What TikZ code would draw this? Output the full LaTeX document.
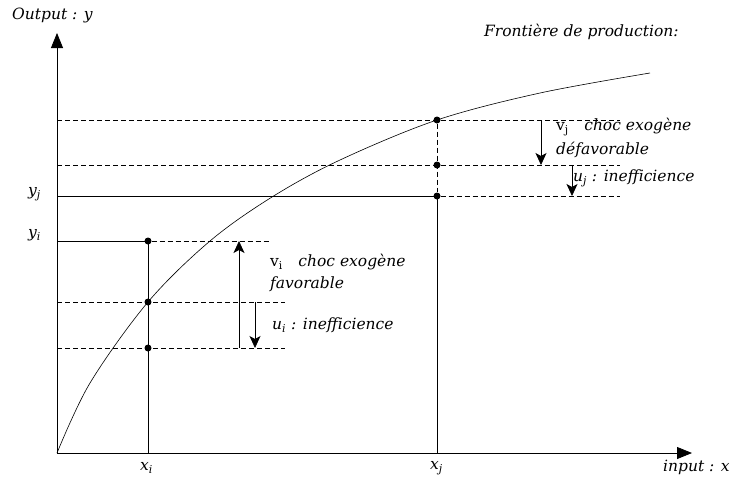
\documentclass[tikz,border=0pt]{standalone}
\usepackage{fontspec}
\setmainfont{DejaVu Serif}
\usetikzlibrary{arrows.meta}
\begin{document}
\begin{tikzpicture}[x=1pt,y=-1pt,
  lbl/.style={font=\itshape\fontsize{15.5}{18}\selectfont, inner sep=0pt, anchor=west},
  axis/.style={line width=0.8pt, -{Triangle[length=15pt,width=12pt]}},
  guide/.style={line width=0.6pt},
  dash line/.style={line width=0.6pt, dash pattern=on 5pt off 3pt},
  shock/.style={line width=0.8pt, -{Stealth[length=12pt,width=11pt,inset=3pt]}},
  dot/.style={circle, fill=black, inner sep=0pt, minimum size=7pt}]
\useasboundingbox (0,0) rectangle (733,488);
% axes
\coordinate (O) at (57,453);
\coordinate (ytop) at (57,33);
\coordinate (xend) at (692,453);
\draw[axis] (O) -- (ytop);
\draw[axis] (O) -- (xend);
% frontier
\draw[line width=0.6pt] plot[smooth, tension=0.55] coordinates {(57,453) (90,383) (148,302) (210,241) (272,197) (340,160) (437,120) (540,93) (650,73)};
% points i
\node[dot] (Pi1) at (148,241) {};
\node[dot] (Pi2) at (148,302) {};
\node[dot] (Pi3) at (148,348) {};
\coordinate (Xi) at (148,453);
\coordinate (Yi) at (57,241);
\coordinate (Li2) at (57,302);
\coordinate (Li3) at (57,348);
\coordinate (Ei1) at (270,241);
\coordinate (Ei2) at (285,302);
\coordinate (Ei3) at (285,348);
\draw[guide] (Yi) -- (Pi1.center) -- (Xi);
\draw[dash line] (Pi1) -- (Ei1);
\draw[dash line] (Li2) -- (Ei2);
\draw[dash line] (Li3) -- (Ei3);
% points j
\node[dot] (Pj1) at (437,120) {};
\node[dot] (Pj2) at (437,165) {};
\node[dot] (Pj3) at (437,196) {};
\coordinate (Xj) at (437,453);
\coordinate (Yj) at (57,196);
\coordinate (Lj1) at (57,120);
\coordinate (Lj2) at (57,165);
\coordinate (Ej1) at (620,120);
\coordinate (Ej2) at (620,165);
\coordinate (Ej3) at (620,196);
\draw[dash line] (Lj1) -- (Ej1);
\draw[dash line] (Lj2) -- (Ej2);
\draw[guide] (Yj) -- (Pj3.center) -- (Xj);
\draw[dash line] (Pj3) -- (Ej3);
\draw[dash line] (Pj1) -- (Pj3);
% shock arrows
\coordinate (a1s) at (239,348);
\coordinate (a1e) at (239,241);
\coordinate (a2s) at (255,302);
\coordinate (a2e) at (255,348);
\coordinate (a3s) at (541,120);
\coordinate (a3e) at (541,165);
\coordinate (a4s) at (572,165);
\coordinate (a4e) at (572,196);
\draw[shock] (a1s) -- (a1e);
\draw[shock] (a2s) -- (a2e);
\draw[shock] (a3s) -- (a3e);
\draw[shock] (a4s) -- (a4e);
% labels
\node[lbl] (tout) at (12,15) {Output : y};
\node[lbl] (tin) at (663,467) {input : x};
\node[lbl] (tfront) at (484,32) {Frontière de production:};
\node[lbl] (txi) at (140,468) {x\textsubscript{i}};
\node[lbl] (txj) at (430,468) {x\textsubscript{j}};
\node[lbl] (tyj) at (28,194) {y\textsubscript{j}};
\node[lbl] (tyi) at (28,235) {y\textsubscript{i}};
\node[lbl] (tvi) at (270,262) {\upshape v\textsubscript{i}\itshape\quad choc exogène};
\node[lbl] (tfav) at (270,284) {favorable};
\node[lbl] (tui) at (272,325) {u\textsubscript{i} : inefficience};
\node[lbl] (tvj) at (556,127) {\upshape v\textsubscript{j}\itshape\quad choc exogène};
\node[lbl] (tdef) at (556,150) {défavorable};
\node[lbl] (tuj) at (573,178) {u\textsubscript{j} : inefficience};
\end{tikzpicture}
\end{document}
